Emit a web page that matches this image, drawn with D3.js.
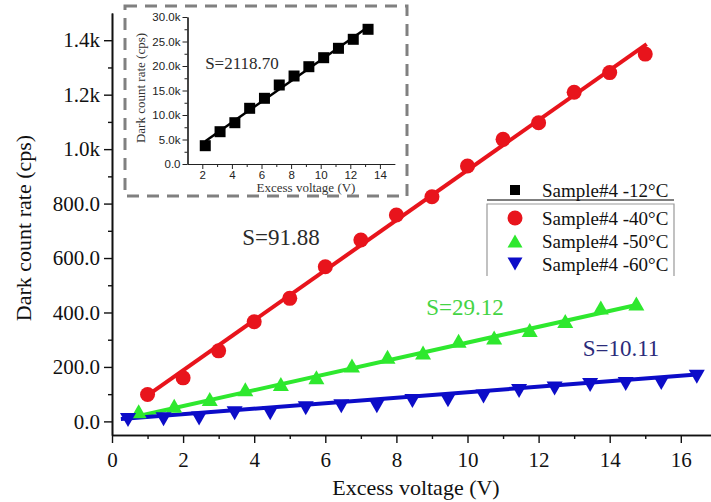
<!DOCTYPE html>
<html><head><meta charset="utf-8">
<script src="https://cdn.jsdelivr.net/npm/d3@7"></script>
<style>
body{margin:0;background:#fff}
svg{display:block}
text{font-family:"Liberation Serif","Times New Roman",serif}
</style>
</head><body>
<svg id="chart" width="711" height="502"></svg>
<script>
// ---------- data ----------
const xTickValues = [0, 2, 4, 6, 8, 10, 12, 14, 16];
const yTickValues = [0, 200, 400, 600, 800, 1000, 1200, 1400];
const yTickLabels = ["0.0", "200.0", "400.0", "600.0", "800.0", "1.0k", "1.2k", "1.4k"];

const redX   = [1, 2, 3, 4, 5, 6, 7, 8, 9, 10, 11, 12, 13, 14, 15];
const redY   = [99, 160, 259, 366, 452, 568, 666, 758, 825, 938, 1036, 1097, 1209, 1281, 1349];
const greenX = [0.75, 1.75, 2.75, 3.75, 4.75, 5.75, 6.75, 7.75, 8.75, 9.75, 10.75, 11.75, 12.75, 13.75, 14.75];
const greenY = [37, 57, 82, 118, 137, 162, 205, 237, 253, 296, 308, 336, 369, 418, 433];
const blueX  = [0.45, 1.45, 2.45, 3.45, 4.45, 5.45, 6.45, 7.45, 8.45, 9.45, 10.45, 11.45, 12.45, 13.45, 14.45, 15.45, 16.45];
const blueY  = [5, 8, 11, 30, 30, 48, 56, 56, 75, 78, 91, 112, 121, 134, 137, 141, 164];

const seriesNames = ["Sample#4 -12°C", "Sample#4 -40°C", "Sample#4 -50°C", "Sample#4 -60°C"];
const slopeLabels = ["S=91.88", "S=29.12", "S=10.11"];
const fitSlopes = [91.88, 29.12, 10.11];
const fitIntercepts = [4, -2, 6];

const insetX = [2.2, 3.2, 4.2, 5.2, 6.2, 7.2, 8.2, 9.2, 10.2, 11.2, 12.2, 13.2];
const insetY = [3735, 6592, 8429, 11367, 13408, 16122, 17959, 19857, 21694, 23612, 25449, 27490];
const insetSlope = 2118.70, insetIntercept = -4;
const insetSlopeLabel = "S=2118.70";
const insetXTicks = [2, 4, 6, 8, 10, 12, 14];
const insetYTicks = [0, 5000, 10000, 15000, 20000, 25000, 30000];
const insetYLabels = ["0.0", "5.0k", "10.0k", "15.0k", "20.0k", "25.0k", "30.0k"];

// ---------- setup ----------
const svg = d3.select("#chart");
const colRed = "#e8141c", colGreen = "#2ee82e", colBlue = "#0c0cc8";

const x = d3.scaleLinear().domain([0, 17]).range([112, 112 + 17 * 35.55]);
const y = d3.scaleLinear().domain([-50, 1500]).range([435, 13]);

function triPath(w, h, down) {
  return down
    ? `M0,${h/2}L${w/2},${-h/2}L${-w/2},${-h/2}Z`
    : `M0,${-h/2}L${w/2},${h/2}L${-w/2},${h/2}Z`;
}

// ---------- main axes ----------
const xAxisMinor = d3.axisBottom(x).tickValues(d3.range(1, 17, 2)).tickSize(4).tickSizeOuter(0).tickFormat("");
svg.append("g").attr("transform", "translate(0,435)").call(xAxisMinor);
const xAxis = d3.axisBottom(x).tickValues(xTickValues).tickSize(8).tickSizeOuter(0).tickPadding(9).tickFormat(d3.format("d"));
const gx = svg.append("g").attr("transform", "translate(0,435)").call(xAxis);
gx.selectAll("text").style("font-family", "Liberation Serif").style("font-size", "21px").attr("fill", "#111");

const yAxisMinor = d3.axisLeft(y).tickValues(d3.range(100, 1500, 200)).tickSize(4).tickSizeOuter(0).tickFormat("");
svg.append("g").attr("transform", "translate(112,0)").call(yAxisMinor);
const yAxis = d3.axisLeft(y).tickValues(yTickValues).tickSize(8).tickSizeOuter(0).tickPadding(4)
  .tickFormat((d, i) => yTickLabels[i]);
const gy = svg.append("g").attr("transform", "translate(112,0)").call(yAxis);
gy.selectAll("text").style("font-family", "Liberation Serif").style("font-size", "21px").attr("fill", "#111");

svg.selectAll(".domain").attr("stroke", "#111").attr("stroke-width", 1.6);
svg.selectAll(".tick line").attr("stroke", "#111").attr("stroke-width", 1.4);

svg.append("text").attr("x", 416).attr("y", 495).attr("text-anchor", "middle")
  .style("font-size", "22px").attr("fill", "#111").text("Excess voltage (V)");
svg.append("text").attr("transform", "translate(31,228) rotate(-90)").attr("text-anchor", "middle")
  .style("font-size", "22px").attr("fill", "#111").text("Dark count rate (cps)");

// ---------- fit lines ----------
const fitRanges = [[redX[0], redX[redX.length-1] + 0.04], [greenX[0], greenX[greenX.length-1]], [blueX[0] - 0.2, blueX[blueX.length-1]]];
const fitColors = [colRed, colGreen, colBlue];
const line = d3.line().x(d => x(d[0])).y(d => y(d[1]));
fitSlopes.forEach((s, i) => {
  const pts = fitRanges[i].map(v => [v, fitIntercepts[i] + s * v]);
  svg.append("path").attr("d", line(pts)).attr("stroke", fitColors[i]).attr("stroke-width", 4).attr("fill", "none");
});

// ---------- markers ----------
svg.append("g").selectAll("circle").data(redX).join("circle")
  .attr("cx", d => x(d)).attr("cy", (d, i) => y(redY[i])).attr("r", 7.5).attr("fill", colRed);
svg.append("g").selectAll("path").data(greenX).join("path")
  .attr("transform", (d, i) => `translate(${x(d)},${y(greenY[i])})`).attr("d", triPath(16, 14, false)).attr("fill", colGreen);
svg.append("g").selectAll("path").data(blueX).join("path")
  .attr("transform", (d, i) => `translate(${x(d)},${y(blueY[i])})`).attr("d", triPath(16, 14, true)).attr("fill", colBlue);

// ---------- slope labels ----------
const slopePos = [[281, 245, "#2a2a2a"], [465, 315, "#44d444"], [621, 356, "#2b2b7a"]];
slopeLabels.forEach((t, i) => {
  svg.append("text").attr("x", slopePos[i][0]).attr("y", slopePos[i][1]).attr("text-anchor", "middle")
    .style("font-size", "23px").attr("fill", slopePos[i][2]).text(t);
});

// ---------- legend ----------
const lg = svg.append("g");
lg.append("line").attr("x1", 487).attr("x2", 674).attr("y1", 200).attr("y2", 200).attr("stroke", "#555").attr("stroke-width", 1.5);
lg.append("path").attr("d", "M487,276V204H674V276").attr("fill", "none").attr("stroke", "#999").attr("stroke-width", 1.2);
const legY = [190, 218, 241, 264];
lg.append("rect").attr("x", 510).attr("y", legY[0] - 5).attr("width", 10).attr("height", 10).attr("fill", "#000");
lg.append("circle").attr("cx", 515).attr("cy", legY[1]).attr("r", 7.5).attr("fill", colRed);
lg.append("path").attr("transform", `translate(515,${legY[2]})`).attr("d", triPath(15, 13, false)).attr("fill", colGreen);
lg.append("path").attr("transform", `translate(515,${legY[3]})`).attr("d", triPath(15, 13, true)).attr("fill", colBlue);
seriesNames.forEach((n, i) => {
  lg.append("text").attr("x", 542).attr("y", legY[i] + 6.5).style("font-size", "19px").attr("fill", "#111").text(n);
});

// ---------- inset ----------
const ig = svg.append("g");
ig.append("rect").attr("x", 125).attr("y", 6).attr("width", 282).attr("height", 190)
  .attr("fill", "#fff").attr("stroke", "#808080").attr("stroke-width", 3).attr("stroke-dasharray", "12,8");

const ix = d3.scaleLinear().domain([1, 15]).range([187.5, 187.5 + 14 * 14.8]);
const iy = d3.scaleLinear().domain([0, 30000]).range([164, 17]);

ig.append("g").attr("transform", "translate(0,164)")
  .call(d3.axisBottom(ix).tickValues(d3.range(3, 15, 2)).tickSize(3).tickSizeOuter(0).tickFormat(""));
const igx = ig.append("g").attr("transform", "translate(0,164)")
  .call(d3.axisBottom(ix).tickValues(insetXTicks).tickSize(5).tickSizeOuter(0).tickPadding(2).tickFormat(d3.format("d")));
ig.append("g").attr("transform", "translate(187.5,0)")
  .call(d3.axisLeft(iy).tickValues(d3.range(2500, 30000, 5000)).tickSize(3).tickSizeOuter(0).tickFormat(""));
const igy = ig.append("g").attr("transform", "translate(187.5,0)")
  .call(d3.axisLeft(iy).tickValues(insetYTicks).tickSize(5).tickSizeOuter(0).tickPadding(2).tickFormat((d, i) => insetYLabels[i]));
ig.selectAll(".tick text").style("font-family", "Liberation Sans, Arial, sans-serif").style("font-size", "11.5px").attr("fill", "#222");
ig.selectAll(".domain").attr("stroke", "#222").attr("stroke-width", 1.2);
ig.selectAll(".tick line").attr("stroke", "#222").attr("stroke-width", 1);

ig.append("path").attr("d", line.x(d => ix(d[0])).y(d => iy(d[1]))(
  [insetX[0], insetX[insetX.length-1]].map(v => [v, insetIntercept + insetSlope * v])))
  .attr("stroke", "#000").attr("stroke-width", 2.5).attr("fill", "none");
ig.append("g").selectAll("rect").data(insetX).join("rect")
  .attr("x", d => ix(d) - 5.5).attr("y", (d, i) => iy(insetY[i]) - 5.5).attr("width", 11).attr("height", 11).attr("fill", "#000");

ig.append("text").attr("x", 242).attr("y", 69).attr("text-anchor", "middle").style("font-size", "17px").attr("fill", "#2a2a2a").text(insetSlopeLabel);
ig.append("text").attr("x", 306).attr("y", 192).attr("text-anchor", "middle").style("font-size", "13px").attr("fill", "#333").text("Excess voltage (V)");
ig.append("text").attr("transform", "translate(145,88) rotate(-90)").attr("text-anchor", "middle").style("font-size", "13px").attr("fill", "#333").text("Dark count rate (cps)");
</script>
</body></html>
